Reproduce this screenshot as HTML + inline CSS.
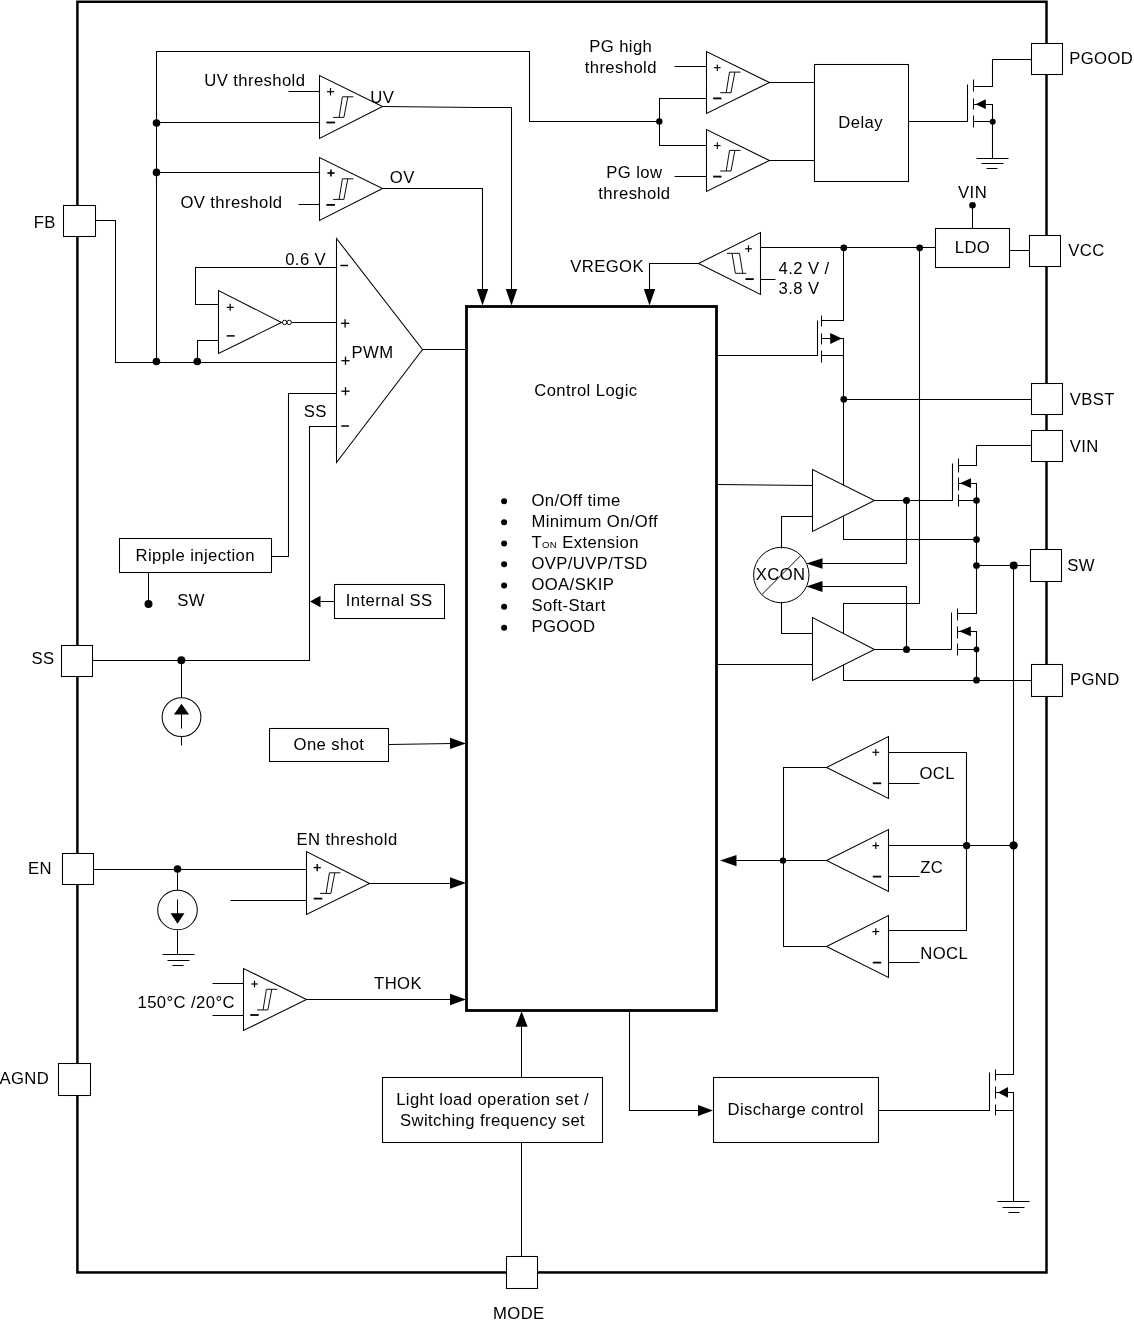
<!DOCTYPE html>
<html lang="en"><head><meta charset="utf-8"><title>Functional block diagram</title>
<style>
html,body{margin:0;padding:0;background:#fff;}
svg{display:block;will-change:transform;}
svg text{font-family:"Liberation Sans",Arial,sans-serif;font-size:16.67px;letter-spacing:0.4px;fill:#000;stroke:none;}
</style></head><body>
<svg width="1134" height="1324" viewBox="0 0 1134 1324" fill="none" stroke="#000" stroke-linejoin="miter" stroke-linecap="butt">
<rect x="0" y="0" width="1134" height="1324" fill="#fff" stroke="none"/>
<rect x="77.4" y="1.75" width="969.1" height="1270.7" stroke-width="2.5"/>
<rect x="466.5" y="306.5" width="250.0" height="704.0" fill="none" stroke-width="2.8"/>
<path d="M95.5 220.5 L115.5 220.5 L115.5 362.5 L336.5 362.5" stroke-width="1.05" />
<path d="M156.5 362.5 L156.5 51.5 L529.5 51.5 L529.5 121.5 L659.5 121.5" stroke-width="1.05" />
<circle cx="156.5" cy="123.0" r="3.8" fill="#000" stroke="none"/>
<circle cx="156.5" cy="172.4" r="3.8" fill="#000" stroke="none"/>
<circle cx="156.4" cy="361.5" r="3.8" fill="#000" stroke="none"/>
<circle cx="197.3" cy="361.5" r="3.8" fill="#000" stroke="none"/>
<polygon points="319.5,75.5 319.5,138.5 382.5,106.5" fill="none" stroke-width="1.05"/>
<path d="M333.1 117.4 L343.9 117.4" stroke-width="0.95" />
<path d="M342.4 96.8 L353.4 96.8" stroke-width="0.95" />
<path d="M339.1 117.4 L342.4 96.8" stroke-width="0.95" />
<path d="M343.9 117.4 L347.8 96.8" stroke-width="0.95" />
<path d="M326.9 91.7 L334.1 91.7" stroke-width="1.2" />
<path d="M330.5 88.1 L330.5 95.3" stroke-width="1.2" />
<path d="M326.4 122.5 L335.0 122.5" stroke-width="1.8" />
<path d="M288.5 91.5 L319.5 91.5" stroke-width="1.05" />
<path d="M156.5 122.5 L319.5 122.5" stroke-width="1.05" />
<path d="M382.5 106.6 L478.0 107.5 L511.5 107.5 L511.5 292.0" stroke-width="1.05" />
<polygon points="511.5,305.6 505.8,289.1 517.2,289.1" fill="#000" stroke="none"/>
<polygon points="319.5,157.5 319.5,220.5 382.5,188.5" fill="none" stroke-width="1.05"/>
<path d="M333.1 199.4 L343.9 199.4" stroke-width="0.95" />
<path d="M342.4 178.8 L353.4 178.8" stroke-width="0.95" />
<path d="M339.1 199.4 L342.4 178.8" stroke-width="0.95" />
<path d="M343.9 199.4 L347.8 178.8" stroke-width="0.95" />
<path d="M327.4 173.0 L334.6 173.0" stroke-width="1.6" />
<path d="M331.0 169.4 L331.0 176.6" stroke-width="1.6" />
<path d="M326.4 204.9 L335.0 204.9" stroke-width="1.8" />
<path d="M156.5 172.5 L319.5 172.5" stroke-width="1.05" />
<path d="M298.5 204.5 L319.5 204.5" stroke-width="1.05" />
<path d="M382.5 188.5 L482.5 188.5 L482.5 292.5" stroke-width="1.05" />
<polygon points="482.5,305.6 476.8,289.1 488.2,289.1" fill="#000" stroke="none"/>
<polygon points="336.5,238.5 336.5,462.5 422.5,349.5" fill="none" stroke-width="1.05"/>
<path d="M422.5 349.5 L466.5 349.5" stroke-width="1.05" />
<path d="M340.4 265.5 L348.0 265.5" stroke-width="1.5" />
<path d="M341.0 323.3 L349.2 323.3" stroke-width="1.3" />
<path d="M345.1 319.2 L345.1 327.4" stroke-width="1.3" />
<path d="M341.4 360.7 L349.6 360.7" stroke-width="1.3" />
<path d="M345.5 356.6 L345.5 364.8" stroke-width="1.3" />
<path d="M341.4 391.2 L349.6 391.2" stroke-width="1.3" />
<path d="M345.5 387.1 L345.5 395.3" stroke-width="1.3" />
<path d="M341.3 426.0 L348.9 426.0" stroke-width="1.5" />
<path d="M336.5 267.5 L195.5 267.5 L195.5 304.5 L218.5 304.5" stroke-width="1.05" />
<polygon points="218.5,290.5 218.5,353.5 281.5,322.5" fill="none" stroke-width="1.05"/>
<circle cx="284.6" cy="322.4" r="2.2" fill="none" stroke-width="0.95"/>
<circle cx="289.2" cy="322.4" r="2.2" fill="none" stroke-width="0.95"/>
<path d="M291.5 322.5 L336.5 322.5" stroke-width="1.05" />
<path d="M226.7 307.3 L233.7 307.3" stroke-width="1.2" />
<path d="M230.2 303.8 L230.2 310.8" stroke-width="1.2" />
<path d="M226.7 335.9 L234.7 335.9" stroke-width="1.5" />
<path d="M197.5 362.5 L197.5 340.5 L218.5 340.5" stroke-width="1.05" />
<path d="M336.5 393.5 L288.5 393.5 L288.5 556.5 L271.5 556.5" stroke-width="1.05" />
<path d="M336.5 426.5 L309.5 426.5 L309.5 660.5 L92.5 660.5" stroke-width="1.05" />
<rect x="119.5" y="538.5" width="152.0" height="34.0" fill="none" stroke-width="1.05"/>
<path d="M148.5 572.5 L148.5 603.5" stroke-width="1.05" />
<circle cx="148.5" cy="603.9" r="4" fill="#000" stroke="none"/>
<rect x="334.5" y="584.5" width="110.0" height="34.0" fill="none" stroke-width="1.05"/>
<path d="M334.5 601.5 L320.5 601.5" stroke-width="1.05" />
<polygon points="310.0,601.5 320.5,595.7 320.5,607.3" fill="#000" stroke="none"/>
<circle cx="181.3" cy="660.3" r="4" fill="#000" stroke="none"/>
<path d="M181.5 660.5 L181.5 698.5" stroke-width="1.05" />
<circle cx="181.5" cy="717.1" r="19.4" fill="#fff" stroke-width="1.05"/>
<path d="M181.5 736.5 L181.5 745.5" stroke-width="1.05" />
<path d="M181.5 713.5 L181.5 728.5" stroke-width="1.05" />
<polygon points="181.5,703.8 173.9,714.6 189.1,714.6" fill="#000" stroke="none"/>
<rect x="269.5" y="728.5" width="119.0" height="33.0" fill="none" stroke-width="1.05"/>
<path d="M388.5 744.5 L452.5 743.5" stroke-width="1.05" />
<polygon points="466.0,743.4 450.0,737.7 450.0,749.1" fill="#000" stroke="none"/>
<path d="M93.5 869.5 L306.5 869.5" stroke-width="1.05" />
<circle cx="177.5" cy="869.0" r="3.8" fill="#000" stroke="none"/>
<path d="M177.5 869.5 L177.5 890.5" stroke-width="1.05" />
<circle cx="177.5" cy="910.0" r="19.8" fill="#fff" stroke-width="1.05"/>
<path d="M177.5 930.5 L177.5 954.5" stroke-width="1.05" />
<path d="M162.5 954.5 L194.5 954.5" stroke-width="1.05" />
<path d="M167.5 960.5 L189.5 960.5" stroke-width="1.05" />
<path d="M172.5 965.5 L183.5 965.5" stroke-width="1.05" />
<path d="M177.5 899.5 L177.5 914.5" stroke-width="1.05" />
<polygon points="177.5,923.8 170.5,913.3 184.5,913.3" fill="#000" stroke="none"/>
<polygon points="306.5,851.5 306.5,914.5 369.5,883.5" fill="none" stroke-width="1.05"/>
<path d="M320.1 893.4 L330.9 893.4" stroke-width="0.95" />
<path d="M329.4 872.8 L340.4 872.8" stroke-width="0.95" />
<path d="M326.1 893.4 L329.4 872.8" stroke-width="0.95" />
<path d="M330.9 893.4 L334.8 872.8" stroke-width="0.95" />
<path d="M313.6 867.6 L320.8 867.6" stroke-width="1.4" />
<path d="M317.2 864.0 L317.2 871.2" stroke-width="1.4" />
<path d="M313.7 898.6 L322.3 898.6" stroke-width="1.8" />
<path d="M230.5 900.5 L306.5 900.5" stroke-width="1.05" />
<path d="M369.5 883.5 L452.5 883.5" stroke-width="1.05" />
<polygon points="466.0,883.0 450.0,877.3 450.0,888.7" fill="#000" stroke="none"/>
<polygon points="243.5,968.5 243.5,1030.5 306.5,999.5" fill="none" stroke-width="1.05"/>
<path d="M257.1 1009.9 L267.9 1009.9" stroke-width="0.95" />
<path d="M266.4 989.3 L277.4 989.3" stroke-width="0.95" />
<path d="M263.1 1009.9 L266.4 989.3" stroke-width="0.95" />
<path d="M267.9 1009.9 L271.8 989.3" stroke-width="0.95" />
<path d="M251.2 984.0 L257.8 984.0" stroke-width="1.2" />
<path d="M254.5 980.7 L254.5 987.3" stroke-width="1.2" />
<path d="M250.3 1015.0 L258.7 1015.0" stroke-width="1.8" />
<path d="M212.5 983.5 L243.5 983.5" stroke-width="1.05" />
<path d="M212.5 1015.5 L243.5 1015.5" stroke-width="1.05" />
<path d="M306.5 999.5 L452.5 999.5" stroke-width="1.05" />
<polygon points="466.0,999.5 450.0,993.8 450.0,1005.2" fill="#000" stroke="none"/>
<path d="M521.5 1256.5 L521.5 1142.5" stroke-width="1.05" />
<rect x="382.5" y="1077.5" width="220.0" height="65.0" fill="none" stroke-width="1.05"/>
<path d="M521.5 1077.5 L521.5 1024.5" stroke-width="1.05" />
<polygon points="521.6,1011.2 515.6,1026.7 527.6,1026.7" fill="#000" stroke="none"/>
<path d="M629.5 1010.5 L629.5 1110.5 L700.5 1110.5" stroke-width="1.05" />
<polygon points="713.0,1110.4 698.0,1104.9 698.0,1115.9" fill="#000" stroke="none"/>
<rect x="713.5" y="1077.5" width="165.0" height="65.0" fill="none" stroke-width="1.05"/>
<path d="M878.5 1110.5 L989.5 1110.5 L989.5 1072.5" stroke-width="1.05" />
<path d="M995.5 1069.5 L995.5 1080.5" stroke-width="1.05" />
<path d="M995.5 1086.5 L995.5 1098.5" stroke-width="1.05" />
<path d="M995.5 1104.5 L995.5 1115.5" stroke-width="1.05" />
<path d="M995.5 1074.5 L1013.5 1074.5 L1013.5 565.5" stroke-width="1.05" />
<path d="M995.5 1092.5 L1013.5 1092.5 L1013.5 1201.5" stroke-width="1.05" />
<polygon points="998.0,1092.4 1008.0,1087.0 1008.0,1097.8" fill="#000" stroke="none"/>
<path d="M995.5 1110.5 L1013.5 1110.5" stroke-width="1.05" />
<path d="M997.5 1201.5 L1029.5 1201.5" stroke-width="1.05" />
<path d="M1002.5 1207.5 L1024.5 1207.5" stroke-width="1.05" />
<path d="M1008.5 1212.5 L1019.5 1212.5" stroke-width="1.05" />
<polygon points="888.5,736.5 888.5,798.5 826.5,767.5" fill="none" stroke-width="1.05"/>
<path d="M872.4 752.3 L879.2 752.3" stroke-width="1.2" />
<path d="M875.8 748.9 L875.8 755.7" stroke-width="1.2" />
<path d="M872.8 783.3 L881.2 783.3" stroke-width="1.8" />
<path d="M888.5 783.5 L919.5 783.5" stroke-width="1.05" />
<text x="919.5" y="779.1" text-anchor="start" >OCL</text>
<polygon points="888.5,829.5 888.5,891.5 826.5,860.5" fill="none" stroke-width="1.05"/>
<path d="M872.4 845.6 L879.2 845.6" stroke-width="1.2" />
<path d="M875.8 842.2 L875.8 849.0" stroke-width="1.2" />
<path d="M872.8 876.6 L881.2 876.6" stroke-width="1.8" />
<path d="M888.5 876.5 L919.5 876.5" stroke-width="1.05" />
<text x="920.3" y="873.2" text-anchor="start" >ZC</text>
<polygon points="888.5,915.5 888.5,977.5 826.5,946.5" fill="none" stroke-width="1.05"/>
<path d="M872.4 931.6 L879.2 931.6" stroke-width="1.2" />
<path d="M875.8 928.2 L875.8 935.0" stroke-width="1.2" />
<path d="M872.8 962.6 L881.2 962.6" stroke-width="1.8" />
<path d="M888.5 962.5 L919.5 962.5" stroke-width="1.05" />
<text x="920.3" y="959.2" text-anchor="start" >NOCL</text>
<path d="M888.5 752.5 L966.5 752.5 L966.5 930.5 L888.5 930.5" stroke-width="1.05" />
<path d="M888.5 845.5 L1013.5 845.5" stroke-width="1.05" />
<circle cx="966.6" cy="845.6" r="3.7" fill="#000" stroke="none"/>
<circle cx="1013.6" cy="845.4" r="4.2" fill="#000" stroke="none"/>
<path d="M826.5 767.5 L783.5 767.5 L783.5 946.5 L826.5 946.5" stroke-width="1.05" />
<path d="M826.5 860.5 L735.5 860.5" stroke-width="1.05" />
<circle cx="783.0" cy="860.6" r="3.2" fill="#000" stroke="none"/>
<polygon points="720.0,860.6 736.5,854.9 736.5,866.3" fill="#000" stroke="none"/>
<polygon points="706.5,51.5 706.5,113.5 769.5,82.5" fill="none" stroke-width="1.05"/>
<path d="M720.2 92.7 L731.0 92.7" stroke-width="0.95" />
<path d="M729.5 72.1 L740.5 72.1" stroke-width="0.95" />
<path d="M726.2 92.7 L729.5 72.1" stroke-width="0.95" />
<path d="M731.0 92.7 L734.9 72.1" stroke-width="0.95" />
<polygon points="706.5,129.5 706.5,191.5 769.5,160.5" fill="none" stroke-width="1.05"/>
<path d="M720.2 171.0 L731.0 171.0" stroke-width="0.95" />
<path d="M729.5 150.4 L740.5 150.4" stroke-width="0.95" />
<path d="M726.2 171.0 L729.5 150.4" stroke-width="0.95" />
<path d="M731.0 171.0 L734.9 150.4" stroke-width="0.95" />
<path d="M714.0 67.7 L720.6 67.7" stroke-width="1.1" />
<path d="M717.3 64.4 L717.3 71.0" stroke-width="1.1" />
<path d="M713.1 98.4 L721.5 98.4" stroke-width="1.8" />
<path d="M714.0 145.6 L720.6 145.6" stroke-width="1.1" />
<path d="M717.3 142.3 L717.3 148.9" stroke-width="1.1" />
<path d="M713.1 176.6 L721.5 176.6" stroke-width="1.8" />
<path d="M674.5 66.5 L706.5 66.5" stroke-width="1.05" />
<path d="M674.5 176.5 L706.5 176.5" stroke-width="1.05" />
<path d="M706.5 98.5 L659.5 98.5 L659.5 145.5 L706.5 145.5" stroke-width="1.05" />
<circle cx="659.3" cy="121.4" r="3.2" fill="#000" stroke="none"/>
<path d="M768.5 82.5 L814.5 82.5" stroke-width="1.05" />
<path d="M768.5 160.5 L814.5 160.5" stroke-width="1.05" />
<rect x="814.5" y="64.5" width="94.0" height="117.0" fill="none" stroke-width="1.05"/>
<path d="M908.5 121.5 L967.5 121.5 L967.5 84.5" stroke-width="1.05" />
<path d="M973.5 79.5 L973.5 91.5" stroke-width="1.05" />
<path d="M973.5 98.5 L973.5 109.5" stroke-width="1.05" />
<path d="M973.5 115.5 L973.5 127.5" stroke-width="1.05" />
<path d="M973.5 86.5 L992.5 86.5 L992.5 59.5 L1031.5 59.5" stroke-width="1.05" />
<path d="M973.5 104.5 L992.5 104.5 L992.5 158.5" stroke-width="1.05" />
<polygon points="975.5,104.2 985.8,99.3 985.8,109.1" fill="#000" stroke="none"/>
<path d="M973.5 121.5 L992.5 121.5" stroke-width="1.05" />
<circle cx="992.7" cy="121.7" r="3" fill="#000" stroke="none"/>
<path d="M976.5 158.5 L1008.5 158.5" stroke-width="1.05" />
<path d="M981.5 163.5 L1003.5 163.5" stroke-width="1.05" />
<path d="M986.5 168.5 L997.5 168.5" stroke-width="1.05" />
<polygon points="760.5,232.5 760.5,294.5 698.5,263.5" fill="none" stroke-width="1.05"/>
<path d="M726.9 253.3 L739.5 253.3" stroke-width="0.95" />
<path d="M735.4 273.3 L746.2 273.3" stroke-width="0.95" />
<path d="M732.0 253.3 L735.4 273.3" stroke-width="0.95" />
<path d="M739.5 253.3 L742.7 273.3" stroke-width="0.95" />
<path d="M745.1 248.8 L751.9 248.8" stroke-width="1.2" />
<path d="M748.5 245.4 L748.5 252.2" stroke-width="1.2" />
<path d="M745.4 279.1 L753.8 279.1" stroke-width="1.8" />
<path d="M698.5 263.5 L649.5 263.5 L649.5 292.5" stroke-width="1.05" />
<polygon points="649.5,305.6 643.8,289.1 655.2,289.1" fill="#000" stroke="none"/>
<path d="M760.5 247.5 L935.5 247.5" stroke-width="1.05" />
<path d="M760.5 279.5 L775.5 279.5" stroke-width="1.05" />
<circle cx="843.8" cy="247.8" r="3.4" fill="#000" stroke="none"/>
<circle cx="919.7" cy="247.8" r="3.4" fill="#000" stroke="none"/>
<rect x="935.5" y="228.5" width="74.0" height="39.0" fill="none" stroke-width="1.05"/>
<path d="M1009.5 250.5 L1029.5 250.5" stroke-width="1.05" />
<path d="M972.5 205.5 L972.5 228.5" stroke-width="1.05" />
<circle cx="972.5" cy="205.2" r="3.3" fill="#000" stroke="none"/>
<path d="M843.5 247.5 L843.5 320.5 L821.5 320.5" stroke-width="1.05" />
<path d="M821.5 315.5 L821.5 326.5" stroke-width="1.05" />
<path d="M821.5 333.5 L821.5 344.5" stroke-width="1.05" />
<path d="M821.5 350.5 L821.5 362.5" stroke-width="1.05" />
<path d="M717.5 355.5 L817.5 355.5 L817.5 320.5" stroke-width="1.05" />
<path d="M821.5 338.5 L843.5 338.5 L843.5 485.5" stroke-width="1.05" />
<polygon points="842.0,338.5 830.2,333.1 830.2,343.9" fill="#000" stroke="none"/>
<path d="M821.5 355.5 L843.5 355.5" stroke-width="1.05" />
<circle cx="843.8" cy="399.3" r="3.4" fill="#000" stroke="none"/>
<path d="M843.5 399.5 L1032.5 399.5" stroke-width="1.05" />
<path d="M919.5 247.5 L919.5 603.5 L843.5 603.5 L843.5 633.5" stroke-width="1.05" />
<polygon points="812.5,469.5 812.5,531.5 874.5,500.5" fill="none" stroke-width="1.05"/>
<path d="M717.5 484.5 L812.5 485.5" stroke-width="1.05" />
<path d="M812.5 516.5 L781.5 516.5 L781.5 548.5" stroke-width="1.05" />
<path d="M843.5 516.5 L843.5 539.5 L976.5 539.5" stroke-width="1.05" />
<path d="M874.5 500.5 L952.5 500.5 L952.5 463.5" stroke-width="1.05" />
<circle cx="906.5" cy="500.5" r="3.5" fill="#000" stroke="none"/>
<path d="M906.5 500.5 L906.5 563.5 L820.5 563.5" stroke-width="1.05" />
<polygon points="806.3,563.5 822.5,558.2 822.5,568.8" fill="#000" stroke="none"/>
<path d="M958.5 458.5 L958.5 472.5" stroke-width="1.05" />
<path d="M958.5 477.5 L958.5 490.5" stroke-width="1.05" />
<path d="M958.5 494.5 L958.5 506.5" stroke-width="1.05" />
<path d="M958.5 465.5 L976.5 465.5 L976.5 445.5 L1032.5 445.5" stroke-width="1.05" />
<path d="M958.5 483.5 L976.5 483.5 L976.5 613.5 L957.5 613.5" stroke-width="1.05" />
<polygon points="959.8,483.2 971.0,478.3 971.0,488.1" fill="#000" stroke="none"/>
<path d="M958.5 500.5 L976.5 500.5" stroke-width="1.05" />
<circle cx="976.5" cy="500.5" r="3.3" fill="#000" stroke="none"/>
<circle cx="976.5" cy="539.6" r="3.4" fill="#000" stroke="none"/>
<circle cx="976.5" cy="565.6" r="3.4" fill="#000" stroke="none"/>
<path d="M976.5 565.5 L1031.5 565.5" stroke-width="1.05" />
<circle cx="1013.7" cy="565.6" r="4" fill="#000" stroke="none"/>
<path d="M951.5 612.5 L951.5 649.5" stroke-width="1.05" />
<path d="M957.5 608.5 L957.5 620.5" stroke-width="1.05" />
<path d="M957.5 626.5 L957.5 638.5" stroke-width="1.05" />
<path d="M957.5 643.5 L957.5 655.5" stroke-width="1.05" />
<path d="M957.5 631.5 L976.5 631.5 L976.5 680.5" stroke-width="1.05" />
<polygon points="959.0,631.3 970.8,626.4 970.8,636.2" fill="#000" stroke="none"/>
<path d="M957.5 649.5 L976.5 649.5" stroke-width="1.05" />
<circle cx="976.5" cy="649.4" r="2.9" fill="#000" stroke="none"/>
<circle cx="976.5" cy="680.2" r="3.4" fill="#000" stroke="none"/>
<polygon points="812.5,617.5 812.5,680.5 874.5,649.5" fill="none" stroke-width="1.05"/>
<path d="M717.5 664.5 L812.5 664.5" stroke-width="1.05" />
<path d="M781.5 602.5 L781.5 633.5 L812.5 633.5" stroke-width="1.05" />
<path d="M843.5 664.5 L843.5 680.5 L1032.5 680.5" stroke-width="1.05" />
<path d="M874.5 649.5 L951.5 649.5" stroke-width="1.05" />
<circle cx="906.5" cy="649.4" r="3.5" fill="#000" stroke="none"/>
<path d="M906.5 649.5 L906.5 586.5 L820.5 586.5" stroke-width="1.05" />
<polygon points="806.3,586.5 822.5,581.0 822.5,592.0" fill="#000" stroke="none"/>
<circle cx="781.3" cy="575.0" r="27.7" fill="none" stroke-width="1.0"/>
<path d="M761.8 594.6 L800.9 555.4" stroke-width="0.95" />
<rect x="63.5" y="205.5" width="32.0" height="31.0" fill="#fff" stroke-width="1.05"/>
<rect x="61.5" y="645.5" width="31.0" height="31.0" fill="#fff" stroke-width="1.05"/>
<rect x="62.5" y="853.5" width="31.0" height="31.0" fill="#fff" stroke-width="1.05"/>
<rect x="58.5" y="1063.5" width="32.0" height="32.0" fill="#fff" stroke-width="1.05"/>
<rect x="506.5" y="1256.5" width="31.0" height="32.0" fill="#fff" stroke-width="1.05"/>
<rect x="1031.5" y="43.5" width="31.0" height="31.0" fill="#fff" stroke-width="1.05"/>
<rect x="1029.5" y="235.5" width="31.0" height="31.0" fill="#fff" stroke-width="1.05"/>
<rect x="1031.5" y="383.5" width="31.0" height="31.0" fill="#fff" stroke-width="1.05"/>
<rect x="1031.5" y="430.5" width="31.0" height="31.0" fill="#fff" stroke-width="1.05"/>
<rect x="1030.5" y="549.5" width="31.0" height="32.0" fill="#fff" stroke-width="1.05"/>
<rect x="1031.5" y="664.5" width="31.0" height="32.0" fill="#fff" stroke-width="1.05"/>
<text x="33.7" y="227.5" text-anchor="start" >FB</text>
<text x="31.5" y="664.2" text-anchor="start" >SS</text>
<text x="27.9" y="874.0" text-anchor="start" >EN</text>
<text x="-0.6" y="1084.3" text-anchor="start" >AGND</text>
<text x="518.8" y="1318.6" text-anchor="middle" >MODE</text>
<text x="1069.2" y="63.7" text-anchor="start" >PGOOD</text>
<text x="1068.3" y="255.6" text-anchor="start" >VCC</text>
<text x="1069.8" y="404.8" text-anchor="start" >VBST</text>
<text x="1069.8" y="451.6" text-anchor="start" >VIN</text>
<text x="1067.2" y="571.4" text-anchor="start" >SW</text>
<text x="1069.9" y="685.2" text-anchor="start" >PGND</text>
<text x="204.3" y="86.0" text-anchor="start" >UV threshold</text>
<text x="180.4" y="207.6" text-anchor="start" >OV threshold</text>
<text x="370.3" y="102.7" text-anchor="start" >UV</text>
<text x="389.8" y="182.8" text-anchor="start" >OV</text>
<text x="285.2" y="264.5" text-anchor="start" >0.6 V</text>
<text x="351.6" y="357.8" text-anchor="start" >PWM</text>
<text x="303.8" y="417.4" text-anchor="start" >SS</text>
<text x="195.2" y="560.8" text-anchor="middle" >Ripple injection</text>
<text x="177.3" y="605.6" text-anchor="start" >SW</text>
<text x="389.2" y="606.1" text-anchor="middle" >Internal SS</text>
<text x="329.0" y="750.2" text-anchor="middle" >One shot</text>
<text x="347.0" y="844.7" text-anchor="middle" >EN threshold</text>
<text x="186.2" y="1007.6" text-anchor="middle" >150°C /20°C</text>
<text x="398.0" y="989.0" text-anchor="middle" >THOK</text>
<text x="492.6" y="1104.8" text-anchor="middle" >Light load operation set /</text>
<text x="492.6" y="1126.1" text-anchor="middle" >Switching frequency set</text>
<text x="795.7" y="1115.4" text-anchor="middle" >Discharge control</text>
<text x="620.8" y="51.5" text-anchor="middle" >PG high</text>
<text x="620.8" y="72.9" text-anchor="middle" >threshold</text>
<text x="634.4" y="177.9" text-anchor="middle" >PG low</text>
<text x="634.4" y="198.8" text-anchor="middle" >threshold</text>
<text x="860.6" y="127.8" text-anchor="middle" >Delay</text>
<text x="972.6" y="197.8" text-anchor="middle" >VIN</text>
<text x="972.5" y="252.8" text-anchor="middle" >LDO</text>
<text x="570.3" y="271.8" text-anchor="start" >VREGOK</text>
<text x="778.6" y="273.9" text-anchor="start" >4.2 V /</text>
<text x="778.6" y="294.4" text-anchor="start" >3.8 V</text>
<text x="780.6" y="580.1" text-anchor="middle" >XCON</text>
<text x="585.9" y="396.3" text-anchor="middle" >Control Logic</text>
<circle cx="504.1" cy="501.2" r="3.0" fill="#000" stroke="none"/>
<text x="531.4" y="505.8" text-anchor="start" >On/Off time</text>
<circle cx="504.1" cy="522.3" r="3.0" fill="#000" stroke="none"/>
<text x="531.4" y="526.9" text-anchor="start" >Minimum On/Off</text>
<circle cx="504.1" cy="543.4" r="3.0" fill="#000" stroke="none"/>
<text x="531.4" y="548.0" text-anchor="start" >T<tspan font-size="9.6">ON</tspan> Extension</text>
<circle cx="504.1" cy="564.3" r="3.0" fill="#000" stroke="none"/>
<text x="531.4" y="568.9" text-anchor="start" >OVP/UVP/TSD</text>
<circle cx="504.1" cy="585.5" r="3.0" fill="#000" stroke="none"/>
<text x="531.4" y="590.1" text-anchor="start" >OOA/SKIP</text>
<circle cx="504.1" cy="606.8" r="3.0" fill="#000" stroke="none"/>
<text x="531.4" y="611.4" text-anchor="start" >Soft-Start</text>
<circle cx="504.1" cy="627.7" r="3.0" fill="#000" stroke="none"/>
<text x="531.4" y="632.3" text-anchor="start" >PGOOD</text>
</svg>
</body></html>
